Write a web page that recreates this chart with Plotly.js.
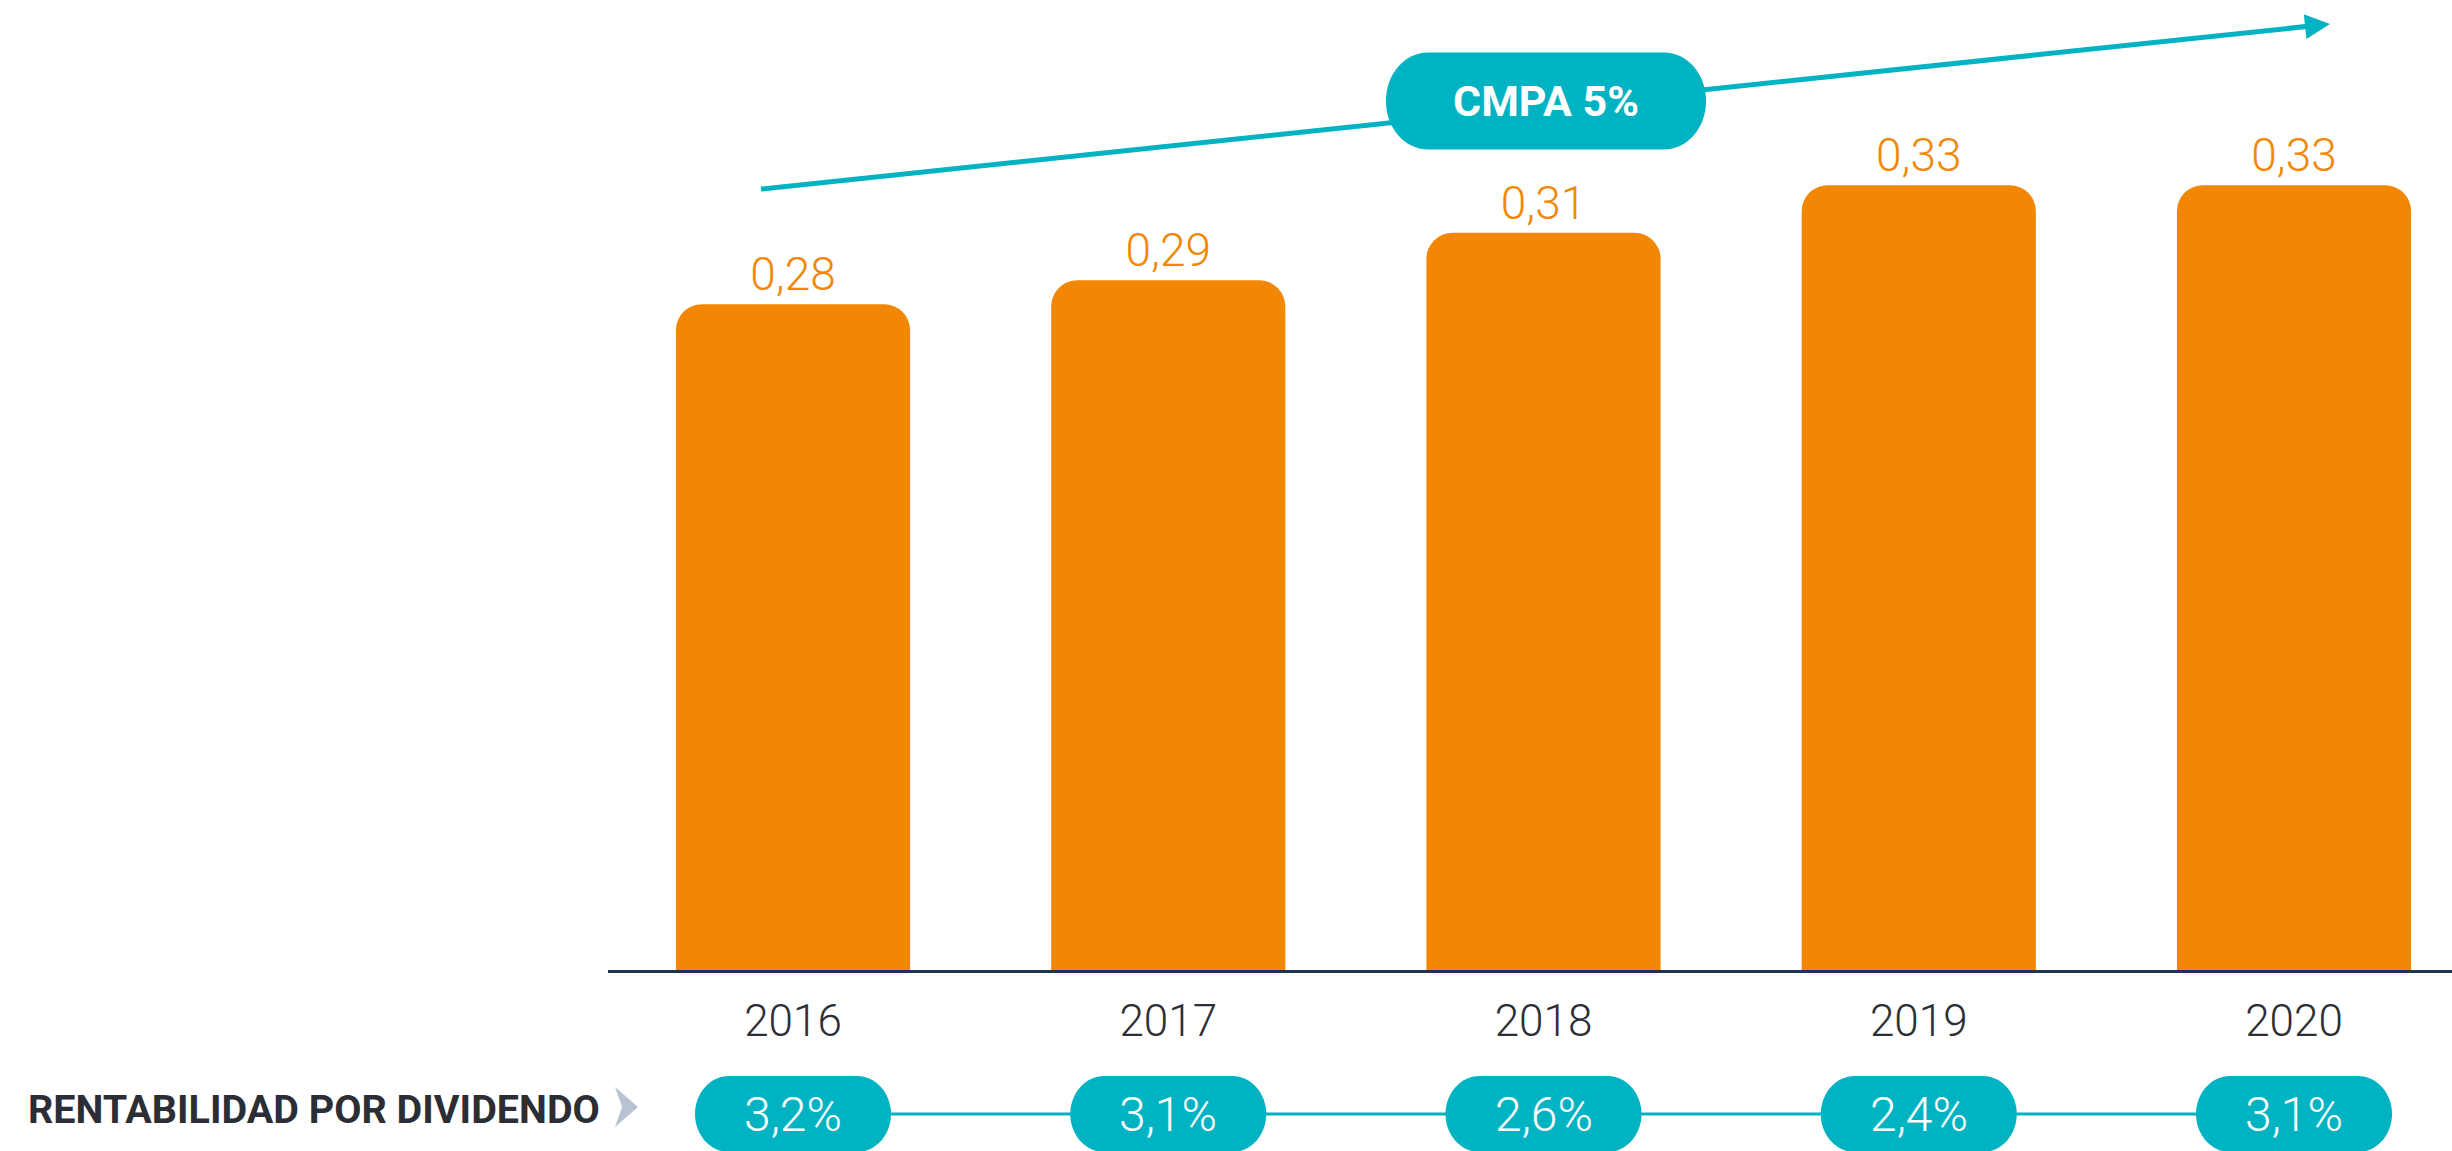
<!DOCTYPE html>
<html>
<head>
<meta charset="utf-8">
<script src="https://cdn.plot.ly/plotly-3.0.1.min.js"></script>
<style>html,body{margin:0;padding:0;background:#fff;}#chart{width:2452px;height:1151px;}</style>
</head>
<body>
<div id="chart"></div>
<script>
// ---- data ----
const years = ['2016', '2017', '2018', '2019', '2020'];
const dividendPerShare = [0.28, 0.29, 0.31, 0.33, 0.33];
const dividendYield = [3.2, 3.1, 2.6, 2.4, 3.1];
const yieldLabel = 'RENTABILIDAD POR DIVIDENDO';
const cagrLabel = 'CMPA 5%';

// ---- styles ----
const ORANGE = '#f28705';
const TEAL = '#00b3c3';
const DARK = '#2b2e35';
const W = 2452, H = 1151;
const M = {l: 608, r: 0, t: 0, b: 181};
const X_RANGE = [-0.493, 4.421];
const plotW = W - M.l - M.r, plotH = H - M.t - M.b;
const px2paperX = x => (x - M.l) / plotW;
const px2paperY = y => (H - M.b - y) / plotH;
// category index -> paper fraction along the x axis
const cat2paper = i => (i - X_RANGE[0]) / (X_RANGE[1] - X_RANGE[0]);

function pillPath(w, h, rx, ry) {
  const x0 = -w / 2, x1 = w / 2, y0 = -h / 2, y1 = h / 2, k = 0.5523;
  return `M${x0 + rx},${y0} L${x1 - rx},${y0} ` +
    `C${x1 - rx + k * rx},${y0} ${x1},${y0 + ry - k * ry} ${x1},${y0 + ry} ` +
    `L${x1},${y1 - ry} ` +
    `C${x1},${y1 - ry + k * ry} ${x1 - rx + k * rx},${y1} ${x1 - rx},${y1} ` +
    `L${x0 + rx},${y1} ` +
    `C${x0 + rx - k * rx},${y1} ${x0},${y1 - ry + k * ry} ${x0},${y1 - ry} ` +
    `L${x0},${y0 + ry} ` +
    `C${x0},${y0 + ry - k * ry} ${x0 + rx - k * rx},${y0} ${x0 + rx},${y0} Z`;
}

const fmtPct = v => v.toFixed(1).replace('.', ',') + '%';

const pillY = px2paperY(1114);
const shapes = [];
const annotations = [];

// connector line for yield pills
shapes.push({type: 'line', xref: 'paper', yref: 'paper', x0: cat2paper(0), x1: cat2paper(years.length - 1),
  y0: pillY, y1: pillY, line: {color: TEAL, width: 3}, layer: 'above'});

years.forEach((yr, i) => {
  shapes.push({type: 'path', xref: 'paper', yref: 'paper', xsizemode: 'pixel', ysizemode: 'pixel',
    xanchor: cat2paper(i), yanchor: pillY, path: pillPath(196, 76, 34, 38),
    fillcolor: TEAL, line: {width: 0}, layer: 'above'});
  annotations.push({xref: 'paper', yref: 'paper', x: cat2paper(i), y: pillY, text: fmtPct(dividendYield[i]),
    showarrow: false, xanchor: 'center', yanchor: 'middle',
    font: {family: 'Roboto', size: 48, weight: 300, color: '#ffffff'}});
});

// growth arrow line (decorative)
const aStart = [761, 189], aEnd = [2330, 24];
shapes.push({type: 'line', xref: 'paper', yref: 'paper',
  x0: px2paperX(aStart[0]), y0: px2paperY(aStart[1]),
  x1: px2paperX(aEnd[0] - 10), y1: px2paperY(aEnd[1] + 1.05),
  line: {color: TEAL, width: 5}, layer: 'above'});
// CAGR pill on top of the line
const cagrX = px2paperX(1546), cagrY = px2paperY(101);
shapes.push({type: 'path', xref: 'paper', yref: 'paper', xsizemode: 'pixel', ysizemode: 'pixel',
  xanchor: cagrX, yanchor: cagrY, path: pillPath(320, 97, 42, 48),
  fillcolor: TEAL, line: {width: 0}, layer: 'above'});
annotations.push({xref: 'paper', yref: 'paper', x: cagrX, y: cagrY, text: cagrLabel,
  showarrow: false, xanchor: 'center', yanchor: 'middle',
  font: {family: 'Roboto', size: 43, weight: 700, color: '#ffffff'}});

// arrow head
{
  const dx = aEnd[0] - aStart[0], dy = aEnd[1] - aStart[1];
  const len = Math.hypot(dx, dy);
  annotations.push({xref: 'paper', yref: 'paper', x: px2paperX(aEnd[0]), y: px2paperY(aEnd[1]),
    axref: 'pixel', ayref: 'pixel', ax: -40 * dx / len, ay: -40 * dy / len,
    text: '', showarrow: true, arrowhead: 2, arrowsize: 1.25, arrowwidth: 4, arrowcolor: TEAL});
}

// left label + chevron
annotations.push({xref: 'paper', yref: 'paper', x: px2paperX(26), y: px2paperY(1109),
  text: '<b>' + yieldLabel + '</b>', showarrow: false, xanchor: 'left', yanchor: 'middle',
  font: {family: 'Roboto', size: 39.5, color: DARK}});
shapes.push({type: 'path', xref: 'paper', yref: 'paper', xsizemode: 'pixel', ysizemode: 'pixel',
  xanchor: px2paperX(615), yanchor: px2paperY(1107),
  path: 'M0,20 L23,0 L0,-20 L7,0 Z', fillcolor: '#b7c3d3', line: {width: 0}, layer: 'above'});

const trace = {
  type: 'bar', x: years, y: dividendPerShare,
  marker: {color: ORANGE, line: {width: 0}},
  texttemplate: '%{y:.2f}', textposition: 'outside', cliponaxis: false,
  textfont: {family: 'Roboto', size: 46, weight: 300, color: ORANGE},
  hoverinfo: 'skip'
};

const layout = {
  width: W, height: H, margin: M,
  paper_bgcolor: '#ffffff', plot_bgcolor: '#ffffff',
  separators: ',.', showlegend: false,
  bargap: 0.376, barcornerradius: 26,
  xaxis: {type: 'category', range: X_RANGE, showline: true, linecolor: '#1e3552', linewidth: 3,
    ticks: '', showgrid: false, zeroline: false, ticklabelstandoff: 10,
    tickfont: {family: 'Roboto', size: 44, weight: 300, color: DARK}, fixedrange: true},
  yaxis: {range: [0, 0.4079], visible: false, showgrid: false, zeroline: false, fixedrange: true},
  shapes: shapes, annotations: annotations
};

Plotly.newPlot('chart', [trace], layout, {displayModeBar: false, staticPlot: true});
</script>
</body>
</html>
